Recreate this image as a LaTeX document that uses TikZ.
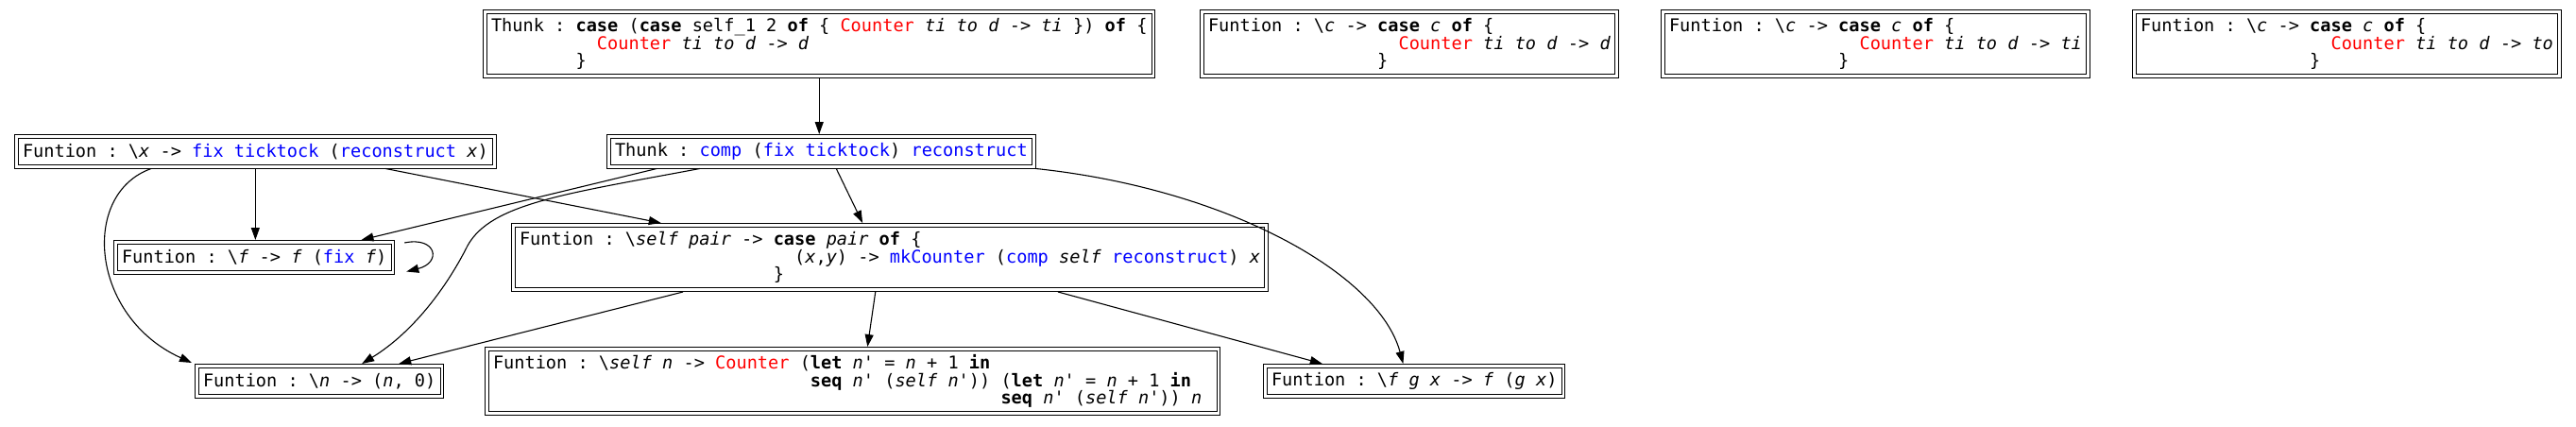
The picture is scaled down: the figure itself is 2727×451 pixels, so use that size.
\documentclass[tikz,border=0pt]{standalone}
\usepackage{fontspec}
\setmonofont{DejaVu Sans Mono}[ItalicFont={DejaVu Sans Mono Oblique},BoldFont={DejaVu Sans Mono Bold},BoldItalicFont={DejaVu Sans Mono Bold Oblique}]
\usetikzlibrary{arrows.meta,calc}
\definecolor{kwred}{RGB}{255,0,0}
\definecolor{kwblue}{RGB}{0,0,255}
\newlength\cwd
\newcommand\codefont{\ttfamily\fontsize{18.6}{18.6}\selectfont}
\AtBeginDocument{\settowidth{\cwd}{\codefont 0}}
\newcommand\ind[1]{\hspace*{#1\cwd}}
\newcommand\kw[1]{\textbf{#1}}
\newcommand\va[1]{\textit{#1}}
\newcommand\rd[1]{\textcolor{kwred}{#1}}
\newcommand\bl[1]{\textcolor{kwblue}{#1}}
\begin{document}
\begin{tikzpicture}[x=1pt,y=-1pt,
  box/.style={draw, double, double distance=2.6pt, line width=1pt, inner xsep=6.7pt, inner ysep=2pt, outer sep=2.3pt, align=left, font=\codefont, anchor=north west},
  one/.style={minimum height=31.9pt},
  three/.style={minimum height=68.4pt},
  arr/.style={-{Triangle[length=13pt,width=9pt]}, line width=1.1pt}]
\useasboundingbox[fill=white] (0,0) rectangle (2727,451);
% rank 0
\node[box,three] (t1) at (511,10) {Thunk : \kw{case} (\kw{case} self\_1 2 \kw{of} \{ \rd{Counter} \va{ti} \va{to} \va{d} -> \va{ti} \}) \kw{of} \{\\\ind{10}\rd{Counter} \va{ti} \va{to} \va{d} -> \va{d}\\\ind{8}\}};
\node[box,three] (c1) at (1270,10) {Funtion : \textbackslash\va{c} -> \kw{case} \va{c} \kw{of} \{\\\ind{18}\rd{Counter} \va{ti} \va{to} \va{d} -> \va{d}\\\ind{16}\}};
\node[box,three] (c2) at (1758,10) {Funtion : \textbackslash\va{c} -> \kw{case} \va{c} \kw{of} \{\\\ind{18}\rd{Counter} \va{ti} \va{to} \va{d} -> \va{ti}\\\ind{16}\}};
\node[box,three] (c3) at (2257,10) {Funtion : \textbackslash\va{c} -> \kw{case} \va{c} \kw{of} \{\\\ind{18}\rd{Counter} \va{ti} \va{to} \va{d} -> \va{to}\\\ind{16}\}};
% rank 1
\node[box,one] (fx) at (15,142) {Funtion : \textbackslash\va{x} -> \bl{fix ticktock} (\bl{reconstruct} \va{x})};
\node[box,one] (t2) at (642,142) {Thunk : \bl{comp} (\bl{fix ticktock}) \bl{reconstruct}};
% rank 2
\node[box,one] (ff) at (120,254) {Funtion : \textbackslash\va{f} -> \va{f} (\bl{fix} \va{f})};
\node[box,three] (sp) at (541,236) {Funtion : \textbackslash\va{self pair} -> \kw{case} \va{pair} \kw{of} \{\\\ind{26}(\va{x},\va{y}) -> \bl{mkCounter} (\bl{comp} \va{self} \bl{reconstruct}) \va{x}\\\ind{24}\}};
% rank 3
\node[box,one] (fn) at (206,385) {Funtion : \textbackslash\va{n} -> (\va{n}, 0)};
\node[box,three] (sn) at (513,367) {Funtion : \textbackslash\va{self n} -> \rd{Counter} (\kw{let} \va{n}' = \va{n} + 1 \kw{in}\\\ind{30}\kw{seq} \va{n}' (\va{self n}')) (\kw{let} \va{n}' = \va{n} + 1 \kw{in}\\\ind{48}\kw{seq} \va{n}' (\va{self n}')) \va{n}\phantom{x}};
\node[box,one] (fg) at (1337,385) {Funtion : \textbackslash\va{f g x} -> \va{f} (\va{g x})};
% edges
\draw[arr] (t1.south) -- (t1.south |- t2.north);
\draw[arr] (fx.south) -- (fx.south |- ff.north);
\draw[arr] ($(fx.south west)!0.77!(fx.south east)$) -- ($(sp.north west)!0.198!(sp.north east)$);
\draw[arr] ($(fx.south west)!0.284!(fx.south east)$) .. controls (85,205) and (95,335) .. ($(fn.north west)+(-3,-1)$);
\draw[arr] ($(t2.south west)!0.117!(t2.south east)$) -- ($(ff.north west)!0.88!(ff.north east)$);
\draw[arr] ($(t2.south west)!0.217!(t2.south east)$) .. controls (600,205) and (520,215) .. (495,260) .. controls (475,300) and (440,350) .. ($(fn.north west)!0.67!(fn.north east)$);
\draw[arr] ($(t2.south west)!0.535!(t2.south east)$) -- ($(sp.north west)!0.464!(sp.north east)$);
\draw[arr] (t2.south east) .. controls (1300,200) and (1460,290) .. ($(fg.north west)!0.463!(fg.north east)$);
\draw[arr] ($(ff.north east)+(10,3)$) .. controls (462,250) and (468,278) .. ($(ff.south east)+(12,-3)$);
\draw[arr] ($(sp.south west)!0.227!(sp.south east)$) -- ($(fn.north west)!0.818!(fn.north east)$);
\draw[arr] ($(sp.south west)!0.481!(sp.south east)$) -- ($(sn.north west)!0.52!(sn.north east)$);
\draw[arr] ($(sp.south west)!0.722!(sp.south east)$) -- ($(fg.north west)!0.196!(fg.north east)$);
\end{tikzpicture}
\end{document}
